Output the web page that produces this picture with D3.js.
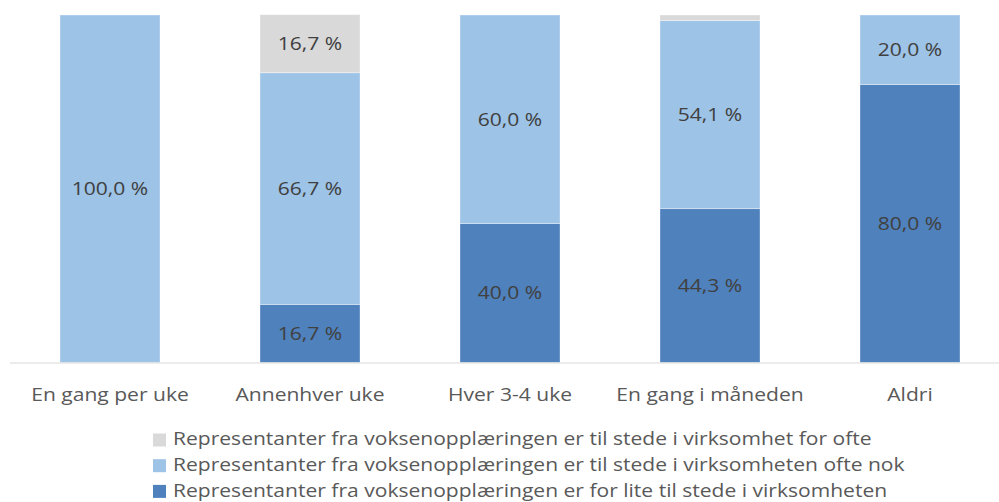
<!DOCTYPE html>
<html>
<head>
<meta charset="utf-8">
<script src="https://cdn.jsdelivr.net/npm/d3@7"></script>
<style>
  body { margin: 0; background: #fff; }
  svg { display: block; font-family: "Open Sans", sans-serif; }
</style>
</head>
<body>
<script>
var categories = ["En gang per uke", "Annenhver uke", "Hver 3-4 uke", "En gang i måneden", "Aldri"];
var seriesNames = [
  "Representanter fra voksenopplæringen er for lite til stede i virksomheten",
  "Representanter fra voksenopplæringen er til stede i virksomheten ofte nok",
  "Representanter fra voksenopplæringen er til stede i virksomhet for ofte"
];
var forLite = [0, 16.7, 40.0, 44.3, 80.0];
var ofteNok = [100.0, 66.7, 60.0, 54.1, 20.0];
var forOfte = [0, 16.7, 0, 1.6, 0];
var colors = ["#4f81bd", "#9dc3e6", "#d9d9d9"];

var width = 999, height = 502;
var fontSize = "18px";
var stretch = " scale(1.17,1)"; // source picture is a bit wider than tall
var svg = d3.select("body").append("svg")
  .attr("width", width)
  .attr("height", height);

var x = d3.scaleBand()
  .domain(categories)
  .range([10, 1010])
  .paddingInner(0.5)
  .paddingOuter(0.25);

var y = d3.scaleLinear()
  .domain([0, 100])
  .range([362.5, 15]);

var rows = categories.map(function(c, i) {
  return {cat: c, s0: forLite[i], s1: ofteNok[i], s2: forOfte[i]};
});
var stack = d3.stack().keys(["s0", "s1", "s2"])(rows);

var layers = svg.selectAll("g.layer")
  .data(stack)
  .enter().append("g")
  .attr("class", "layer")
  .attr("fill", function(d, i) { return colors[i]; });

layers.selectAll("rect")
  .data(function(d) { return d; })
  .enter().append("rect")
  .attr("x", function(d) { return x(d.data.cat); })
  .attr("width", x.bandwidth())
  .attr("y", function(d) { return y(d[1]); })
  .attr("height", function(d) { return y(d[0]) - y(d[1]); })
  .attr("stroke", "#ffffff")
  .attr("stroke-opacity", 0.35)
  .attr("stroke-width", 1);

// labels (skip tiny/zero segments)
layers.selectAll("text")
  .data(function(d) { return d.filter(function(s) { return s[1] - s[0] >= 5; }); })
  .enter().append("text")
  .attr("transform", function(d) {
    var cx = x(d.data.cat) + x.bandwidth() / 2;
    var cy = (y(d[0]) + y(d[1])) / 2;
    return "translate(" + cx + "," + cy + ")" + stretch;
  })
  .attr("dy", "0.35em")
  .attr("text-anchor", "middle")
  .attr("fill", "#404040")
  .style("font-size", fontSize)
  .text(function(d) { return d3.format(".1f")(d[1] - d[0]).replace(".", ",") + " %"; });

// baseline
svg.append("line")
  .attr("x1", 10).attr("x2", 999)
  .attr("y1", y(0) + 0.5).attr("y2", y(0) + 0.5)
  .attr("stroke", "#d9d9d9")
  .attr("stroke-width", 1);

var xAxis = d3.axisBottom(x).tickSize(0).tickPadding(0);
var xg = svg.append("g")
  .attr("transform", "translate(0," + 395 + ")")
  .call(xAxis);
xg.select(".domain").remove();
xg.selectAll("text")
  .attr("y", 0)
  .attr("dy", "0.35em")
  .attr("transform", stretch)
  .attr("fill", "#595959")
  .style("font-size", fontSize)
  .style("font-family", "'Open Sans', sans-serif");

// legend, drawn in reverse order like the reference
var legendItems = [2, 1, 0];
var legend = svg.selectAll("g.legend")
  .data(legendItems)
  .enter().append("g")
  .attr("class", "legend")
  .attr("transform", function(d, i) { return "translate(153," + (440 + i * 25.7) + ")"; });

legend.append("rect")
  .attr("x", 0).attr("y", -6.5)
  .attr("width", 13).attr("height", 13)
  .attr("fill", function(d) { return colors[d]; });

legend.append("text")
  .attr("transform", "translate(20,0)" + stretch)
  .attr("dy", "0.3em")
  .attr("fill", "#595959")
  .style("font-size", fontSize)
  .text(function(d) { return seriesNames[d]; });
</script>
</body>
</html>
